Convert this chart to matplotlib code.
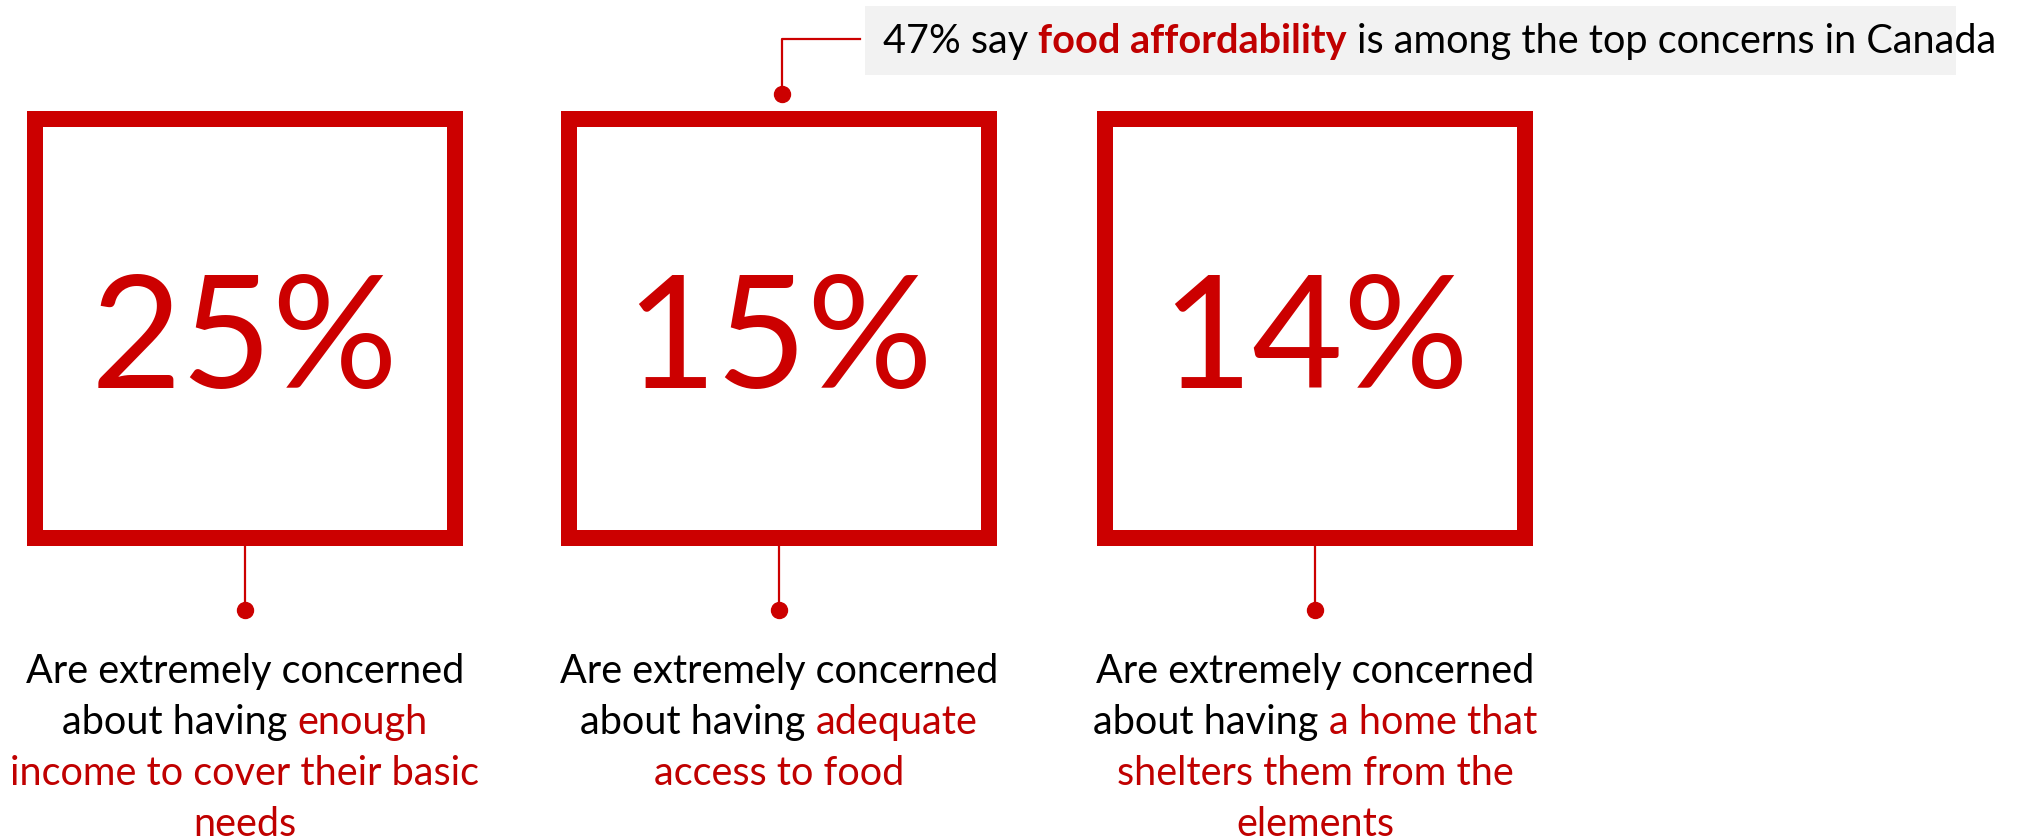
import matplotlib
matplotlib.use('Agg')
import matplotlib.pyplot as plt
from matplotlib.patches import Rectangle

plt.rcParams['font.family'] = ['Lato', 'DejaVu Sans']

W, H = 2018, 839
RED = '#CC0000'
TXT_RED = '#C00000'
GREY = '#F2F2F2'

# share of people extremely concerned, one box each
values = [25, 15, 14]

# caption lines; text after '|' is highlighted in red
captions = [
    ['Are extremely concerned', 'about having|enough', '|income to cover their basic', '|needs'],
    ['Are extremely concerned', 'about having|adequate', '|access to food'],
    ['Are extremely concerned', 'about having|a home that', '|shelters them from the', '|elements'],
]

headline = ['47% say', 'food affordability', 'is among the top concerns in Canada']

fig = plt.figure(figsize=(W / 100, H / 100), dpi=100)
ax = fig.add_axes([0, 0, 1, 1])
ax.set_xlim(0, W)
ax.set_ylim(H, 0)
ax.axis('off')
r = fig.canvas.get_renderer()

CAP_SIZE = 28.5


def space_width(size, weight='normal'):
    a = ax.text(0, 0, 'a a', fontsize=size, fontweight=weight)
    b = ax.text(0, 0, 'aa', fontsize=size, fontweight=weight)
    w = a.get_window_extent(r).width - b.get_window_extent(r).width
    a.remove()
    b.remove()
    return w


def draw_segments(segs, x, y, size, center=True):
    parts = []
    for txt, col, weight in segs:
        parts.append(ax.text(0, y, txt, color=col, fontsize=size, fontweight=weight,
                             ha='left', va='baseline'))
    widths = [p.get_window_extent(r).width for p in parts]
    sp = space_width(size)
    total = sum(widths) + sp * (len(parts) - 1)
    if center:
        x = x - total / 2
    for p, w in zip(parts, widths):
        p.set_x(x)
        x += w + sp


box_left = [27, 561, 1097]
box_top, box_w, box_h, border = 111, 436, 435, 16

for i, v in enumerate(values):
    x0 = box_left[i]
    cx = x0 + box_w / 2
    ax.add_patch(Rectangle((x0, box_top), box_w, box_h, facecolor=RED, edgecolor='none'))
    ax.add_patch(Rectangle((x0 + border, box_top + border), box_w - 2 * border,
                           box_h - 2 * border, facecolor='white', edgecolor='none'))
    ax.text(cx, 388, f'{v}%', color=RED, fontsize=113, ha='center', va='baseline')

    # connector down to the caption
    ax.plot([cx, cx], [box_top + box_h, 610], color=RED, lw=1.6)
    ax.plot(cx, 610, 'o', color=RED, ms=11.5)

    for j, line in enumerate(captions[i]):
        if '|' in line:
            black, red = line.split('|')
        else:
            black, red = line, ''
        segs = []
        if black:
            segs.append((black, 'black', 'normal'))
        if red:
            segs.append((red, TXT_RED, 'normal'))
        draw_segments(segs, cx, 683 + j * 51, CAP_SIZE)

# headline callout above the middle box
ax.add_patch(Rectangle((865, 6), 1091, 69, facecolor=GREY, edgecolor='none'))
draw_segments([(headline[0], 'black', 'normal'),
               (headline[1], TXT_RED, 'bold'),
               (headline[2], 'black', 'normal')], 883, 53, CAP_SIZE, center=False)
ax.plot([860, 782, 782], [39, 39, 94], color=RED, lw=1.6)
ax.plot(782, 94, 'o', color=RED, ms=11.5)

fig.savefig('out.png', dpi=100)
